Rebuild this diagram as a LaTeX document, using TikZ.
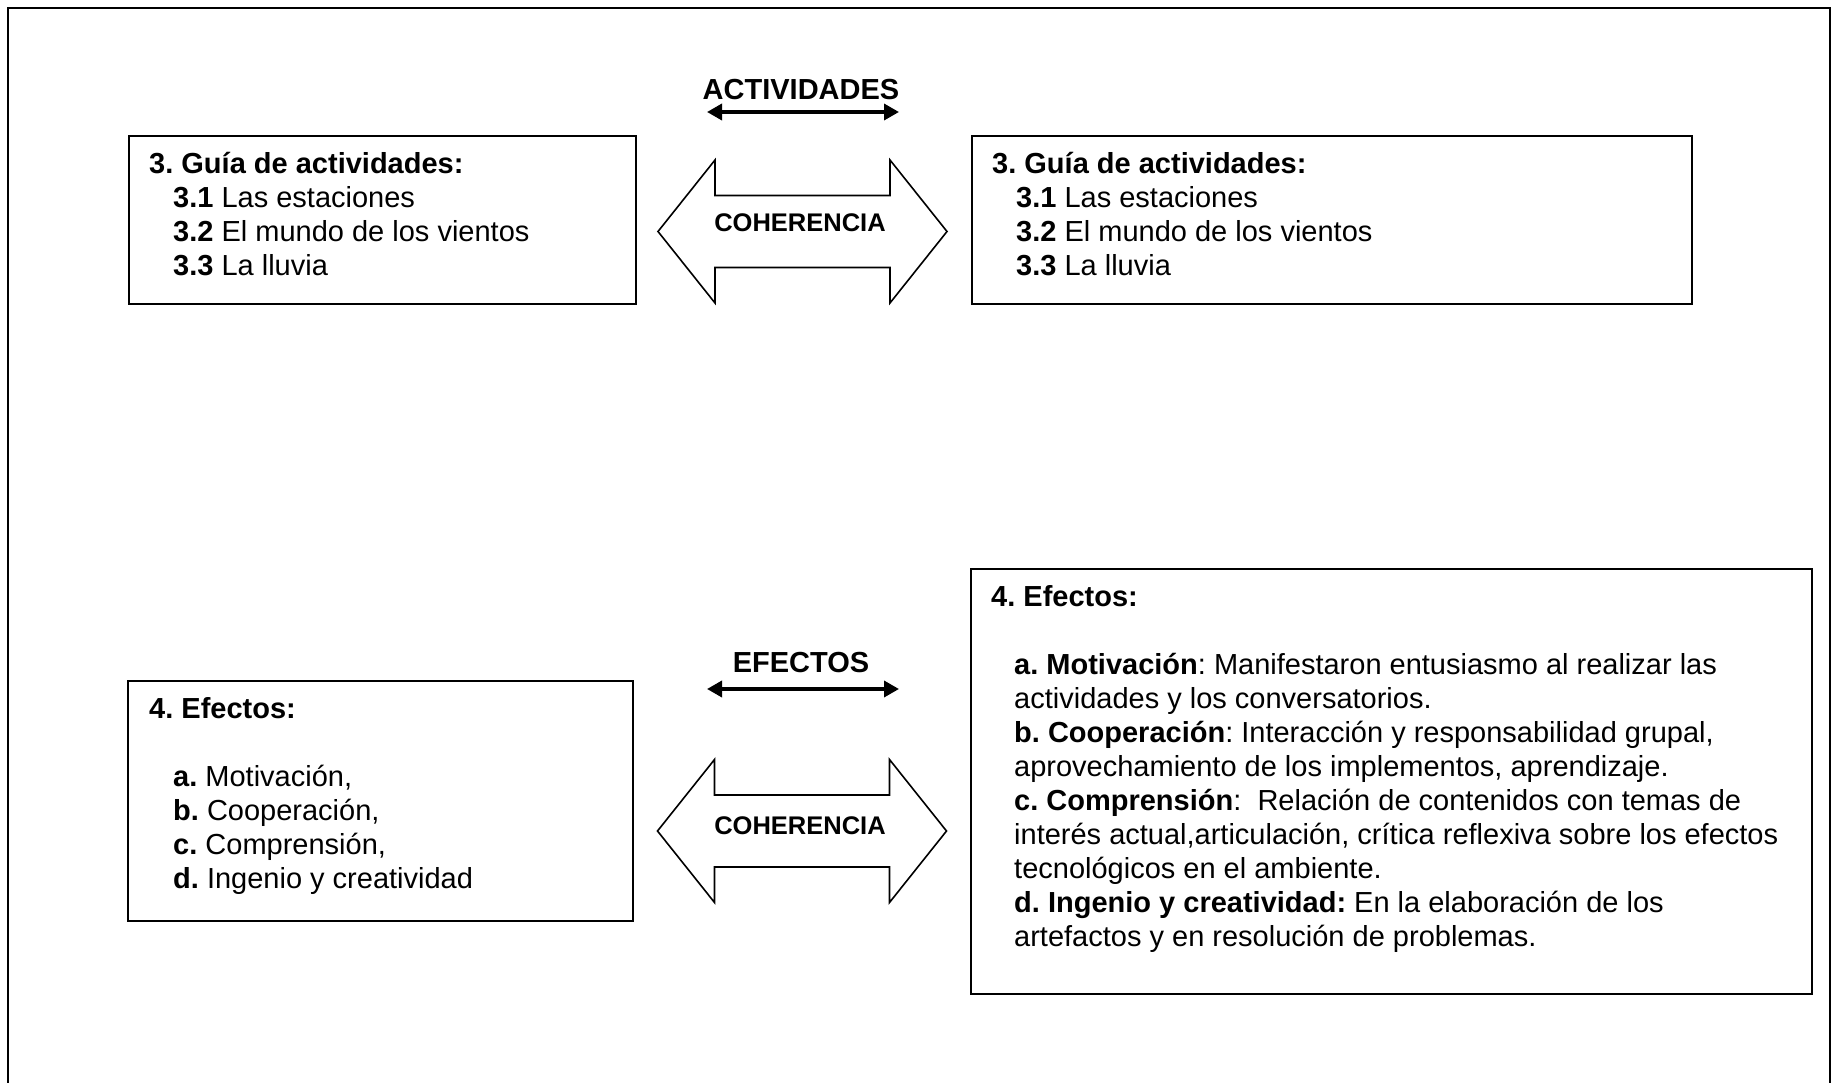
\documentclass[tikz,border=0pt]{standalone}
\usepackage{fontspec}
\setmainfont{Liberation Sans}
\usetikzlibrary{arrows.meta}
\frenchspacing
\begin{document}
\begin{tikzpicture}[x=1pt,y=-1pt,
  frame/.style={line width=2pt},
  box/.style={draw, line width=2pt, rectangle, inner sep=0pt, anchor=north west},
  body/.style={inner sep=0pt, anchor=base west, font=\fontsize{29}{34}\selectfont},
  caption/.style={inner sep=0pt, anchor=base, font=\fontsize{29}{34}\selectfont\bfseries},
  cohtext/.style={inner sep=0pt, anchor=base, font=\fontsize{25.5}{30}\selectfont\bfseries},
  link/.style={line width=3.5pt, {Triangle[length=15pt,width=16pt]}-{Triangle[length=15pt,width=16pt]}},
  coh/.pic={\draw[line width=1.6pt, line join=miter]
      (-144.5,0) -- (-87.5,-71.5) -- (-87.5,-36) -- (87.5,-36) -- (87.5,-71.5)
      -- (144.5,0) -- (87.5,71.5) -- (87.5,36) -- (-87.5,36) -- (-87.5,71.5) -- cycle;}
]
\useasboundingbox (0,0) rectangle (1832,1083);

% page frame, open at the bottom
\draw[frame] (8,1083) -- (8,8) -- (1830,8) -- (1830,1083);

% ---- activities row ----
\node[box, minimum width=507pt, minimum height=168pt] (guiaL) at (128,135) {};
\node[box, minimum width=720pt, minimum height=168pt] (guiaR) at (971,135) {};

\node[body] (guiaLtext) at (149,174) {\parbox[t]{480pt}{%
  \textbf{3. Guía de actividades:}\\
  \hspace*{24pt}\textbf{3.1} Las estaciones\\
  \hspace*{24pt}\textbf{3.2} El mundo de los vientos\\
  \hspace*{24pt}\textbf{3.3} La lluvia}};
\node[body] (guiaRtext) at (992,174) {\parbox[t]{680pt}{%
  \textbf{3. Guía de actividades:}\\
  \hspace*{24pt}\textbf{3.1} Las estaciones\\
  \hspace*{24pt}\textbf{3.2} El mundo de los vientos\\
  \hspace*{24pt}\textbf{3.3} La lluvia}};

\node[caption] (actlabel) at (801,100) {ACTIVIDADES};
\coordinate (actA) at (707,112);
\coordinate (actB) at (899,112);
\draw[link] (actA) -- (actB);

\coordinate (cohtop) at (802.5,231.5);
\pic at (cohtop) {coh};
\node[cohtext] (cohtoplabel) at (800,232) {COHERENCIA};

% ---- effects row ----
\node[box, minimum width=505pt, minimum height=240pt] (efL) at (127,680) {};
\node[box, minimum width=841pt, minimum height=425pt] (efR) at (970,568) {};

\node[body] (efLtext) at (149,718) {\parbox[t]{470pt}{%
  \textbf{4. Efectos:}\\[34pt]
  \hspace*{24pt}\textbf{a.} Motivación,\\
  \hspace*{24pt}\textbf{b.} Cooperación,\\
  \hspace*{24pt}\textbf{c.} Comprensión,\\
  \hspace*{24pt}\textbf{d.} Ingenio y creatividad}};

\node[body] (efRtext) at (991,606) {\parbox[t]{810pt}{%
  \textbf{4. Efectos:}\\[34pt]
  \hspace*{23pt}\textbf{a. Motivación}: Manifestaron entusiasmo al realizar las\\
  \hspace*{23pt}actividades y los conversatorios.\\
  \hspace*{23pt}\textbf{b. Cooperación}: Interacción y responsabilidad grupal,\\
  \hspace*{23pt}aprovechamiento de los implementos, aprendizaje.\\
  \hspace*{23pt}\textbf{c. Comprensión}:\ \ Relación de contenidos con temas de\\
  \hspace*{23pt}interés actual,articulación, crítica reflexiva sobre los efectos\\
  \hspace*{23pt}tecnológicos en el ambiente.\\
  \hspace*{23pt}\textbf{d. Ingenio y creatividad:} En la elaboración de los\\
  \hspace*{23pt}artefactos y en resolución de problemas.}};

\node[caption] (eflabel) at (801,672) {EFECTOS};
\coordinate (efA) at (707,689);
\coordinate (efB) at (899,689);
\draw[link] (efA) -- (efB);

\coordinate (cohbot) at (802,831);
\pic at (cohbot) {coh};
\node[cohtext] (cohbotlabel) at (800,834) {COHERENCIA};
\end{tikzpicture}
\end{document}
